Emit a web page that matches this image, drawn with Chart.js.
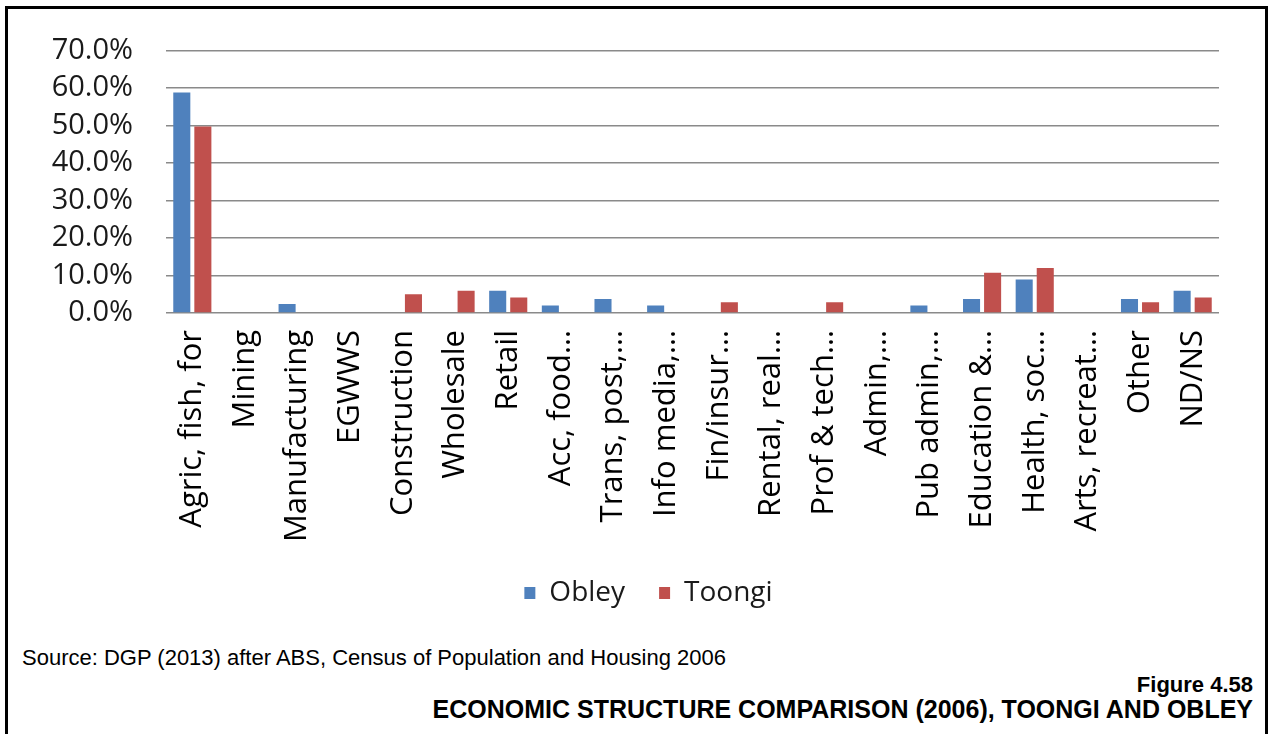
<!DOCTYPE html>
<html>
<head>
<meta charset="utf-8">
<script src="https://cdn.jsdelivr.net/npm/chart.js@4.4.1/dist/chart.umd.min.js"></script>
<style>
  html, body { margin: 0; padding: 0; background: #fff; overflow: hidden; }
  body { width: 1271px; height: 734px; position: relative; }
  #frame {
    position: absolute; left: 5px; top: 6px;
    width: 1257px; height: 800px;
    border: 3px solid #000;
  }
  #wrap { position: absolute; left: 0; top: 0; width: 1271px; height: 617px; }
  .note {
    position: absolute; font-family: "Liberation Sans", Arial, sans-serif;
    color: #000; white-space: nowrap; line-height: 1;
  }
  #source { left: 22px; top: 647px; font-size: 22px; }
  #fignum { right: 18px; top: 674px; font-size: 22px; font-weight: bold; }
  #figtitle { right: 18px; top: 697px; font-size: 25px; font-weight: bold; }
</style>
</head>
<body>
<div id="frame"></div>
<div id="wrap"><canvas id="chart" width="1271" height="617"></canvas></div>
<div class="note" id="source">Source: DGP (2013) after ABS, Census of Population and Housing 2006</div>
<div class="note" id="fignum">Figure 4.58</div>
<div class="note" id="figtitle">ECONOMIC STRUCTURE COMPARISON (2006), TOONGI AND OBLEY</div>
<script>
// Industry categories (share of employed persons, %)
const categories = [
  "Agric, fish, for", "Mining", "Manufacturing", "EGWWS", "Construction",
  "Wholesale", "Retail", "Acc, food…", "Trans, post,…", "Info media,…",
  "Fin/insur…", "Rental, real…", "Prof & tech…", "Admin,…", "Pub admin,…",
  "Education &…", "Health, soc…", "Arts, recreat…", "Other", "ND/NS"
];
const obley = [58.8, 0, 2.4, 0, 0, 0, 5.9, 2.0, 3.7, 2.0, 0, 0, 0, 0, 2.0, 3.7, 8.9, 0, 3.7, 5.9];
const toongi = [49.7, 0, 0, 0, 5.0, 5.9, 4.1, 0, 0, 0, 2.85, 0, 2.85, 0, 0, 10.7, 12.0, 0, 2.85, 4.1];
const yTicks = [0, 10, 20, 30, 40, 50, 60, 70];

const FONT = '"Open Sans", "Noto Sans", sans-serif';

// Nudge the legend row so it sits under the middle of the plot
const legendOffset = {
  id: 'legendOffset',
  afterLayout(chart) {
    const lg = chart.legend;
    if (lg) { lg.left += 27; lg.right += 27; }
  }
};

new Chart(document.getElementById('chart'), {
  type: 'bar',
  data: {
    labels: categories,
    datasets: [
      { label: 'Obley', data: obley, backgroundColor: '#4F81BD' },
      { label: 'Toongi', data: toongi, backgroundColor: '#C0504D' }
    ]
  },
  plugins: [legendOffset],
  options: {
    responsive: false,
    animation: false,
    events: [],
    layout: { padding: { top: 50, left: 24, right: 52, bottom: 0 } },
    datasets: { bar: { categoryPercentage: 0.8, barPercentage: 0.81 } },
    plugins: {
      tooltip: { enabled: false },
      legend: {
        position: 'bottom',
        labels: {
          boxWidth: 11, boxHeight: 12, padding: 34,
          color: '#1a1a1a',
          font: { family: FONT, size: 28 }
        }
      }
    },
    scales: {
      x: {
        grid: { display: false, drawTicks: false },
        border: { display: false },
        ticks: {
          autoSkip: false, minRotation: 90, maxRotation: 90, padding: 17,
          color: '#000', font: { family: FONT, size: 31 }
        },
        afterFit: s => { s.height = 232; }
      },
      y: {
        min: 0, max: 70,
        afterBuildTicks: s => { s.ticks = yTicks.map(v => ({ value: v })); },
        grid: { color: '#8a8a8a', lineWidth: 1.5, drawTicks: false },
        border: { display: false },
        ticks: {
          autoSkip: false,
          padding: 33, color: '#1a1a1a',
          font: { family: FONT, size: 29 },
          callback: v => v.toFixed(1) + '%'
        },
        afterFit: s => { s.width = 142; }
      }
    }
  }
});
</script>
</body>
</html>
